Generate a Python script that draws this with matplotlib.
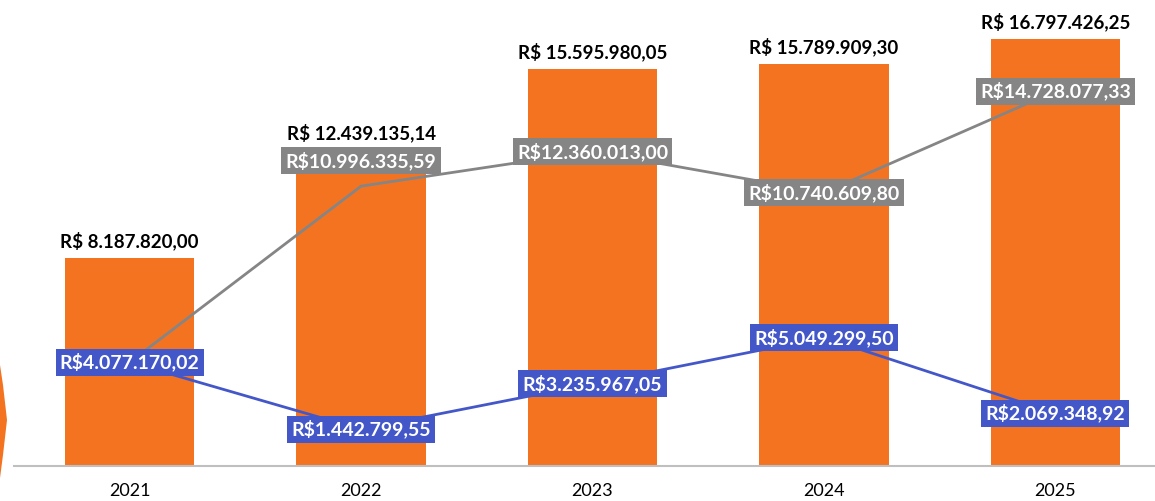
import matplotlib
matplotlib.use("Agg")
import matplotlib.pyplot as plt
from matplotlib.patches import Polygon

# dados (valores em milhões de R$)
anos = ["2021", "2022", "2023", "2024", "2025"]
total = [8.18782000, 12.43913514, 15.59598005, 15.78990930, 16.79742625]
cinza = [4.07717002, 10.99633559, 12.36001300, 10.74060980, 14.72807733]
azul = [4.07717002, 1.44279955, 3.23596705, 5.04929950, 2.06934892]


def brl(v, espaco=True):
    s = "{:,.2f}".format(v * 1e6).replace(",", "X").replace(".", ",").replace("X", ".")
    return ("R$ " if espaco else "R$") + s


plt.rcParams['font.family'] = ['Lato', 'DejaVu Sans']

laranja = "#F47321"
cor_cinza = "#858585"
cor_azul = "#4457C9"

fig = plt.figure(figsize=(11.55, 5.01), dpi=100)
ax = fig.add_axes([14 / 1155, 35 / 501, 1157 / 1155, 453 / 501])

x = list(range(len(anos)))
ax.bar(x, total, width=0.56, color=laranja, zorder=1)
ax.plot(x, cinza, color=cor_cinza, lw=2, zorder=2)
ax.plot(x, azul, color=cor_azul, lw=2, zorder=2)

for i, v in enumerate(total):
    ax.text(i, v + 0.3, brl(v), ha="center", va="bottom", fontsize=13.5,
            fontweight="bold", color="black", zorder=5)

# rótulos da linha cinza (2022 fica acima do ponto)
off_cinza = [0, 1.0, 0, 0, 0]
for i, v in enumerate(cinza):
    if i == 0:
        continue
    ax.text(i, v + off_cinza[i], brl(v, False), ha="center", va="center", fontsize=14,
            fontweight="bold", color="white", zorder=6,
            bbox=dict(boxstyle="square,pad=0.22", fc=cor_cinza, ec="none"))

for i, v in enumerate(azul):
    ax.text(i, v, brl(v, False), ha="center", va="center", fontsize=14,
            fontweight="bold", color="white", zorder=6,
            bbox=dict(boxstyle="square,pad=0.22", fc=cor_azul, ec="none"))

ax.set_xlim(-0.5, 4.5)
ax.set_ylim(0, 17.8)
ax.set_xticks(x)
ax.set_xticklabels(anos, fontsize=13)
ax.tick_params(axis="x", length=0, pad=12)
ax.set_yticks([])
for s in ["top", "right", "left"]:
    ax.spines[s].set_visible(False)
ax.spines["bottom"].set_color("#BFBFBF")
ax.spines["bottom"].set_linewidth(1.5)

# forma decorativa na borda esquerda
fig.patches.append(Polygon([(0, 1 - 365 / 501), (3 / 1155, 1 - 385 / 501),
                            (7 / 1155, 1 - 420 / 501), (3 / 1155, 1 - 455 / 501),
                            (0, 1 - 478 / 501)],
                           closed=True, transform=fig.transFigure, fc=laranja, ec="none"))

fig.savefig("out.png", dpi=100)
